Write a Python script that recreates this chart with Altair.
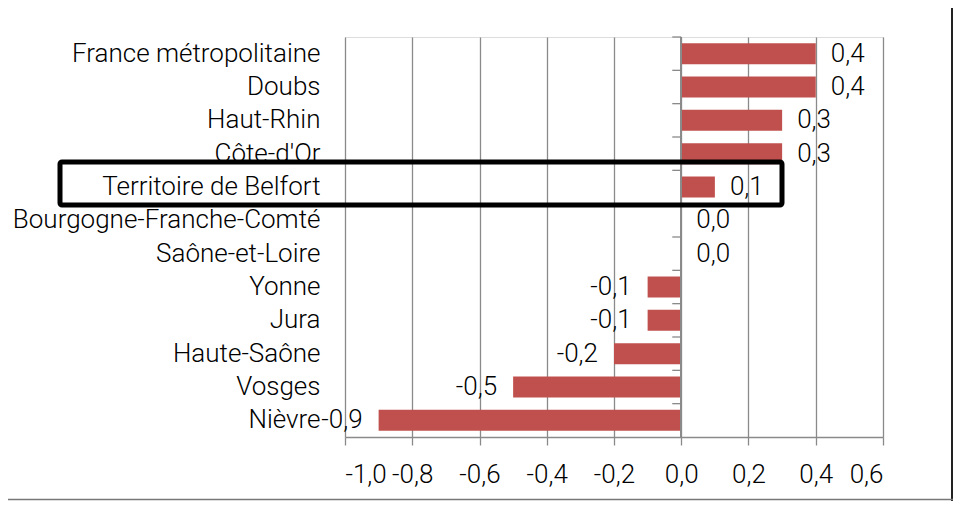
import altair as alt
import pandas as pd

categories = ["France métropolitaine", "Doubs", "Haut-Rhin", "Côte-d'Or",
              "Territoire de Belfort", "Bourgogne-Franche-Comté", "Saône-et-Loire",
              "Yonne", "Jura", "Haute-Saône", "Vosges", "Nièvre"]
values = [0.4, 0.4, 0.3, 0.3, 0.1, 0.0, 0.0, -0.1, -0.1, -0.2, -0.5, -0.9]
x_ticks = [-1.0, -0.8, -0.6, -0.4, -0.2, 0.0, 0.2, 0.4, 0.6]

df = pd.DataFrame({"cat": categories, "val": values})
df["label"] = [f"{v:.1f}".replace(".", ",") for v in values]

FONT = "Roboto"
FW = 300
FS = 26
GRID = "#8a8a8a"
BAR = "#c0504d"

yscale = alt.Scale(domain=categories, paddingInner=0, paddingOuter=0)
yaxis = alt.Axis(title=None, ticks=False, domain=False, labelPadding=25,
                 labelFontSize=FS, labelLimit=0, labelFont=FONT,
                 labelFontWeight=FW, labelColor="black")
xscale = alt.Scale(domain=[-1.0, 0.6], nice=False, zero=False)
xaxis = alt.Axis(title=None, values=x_ticks, grid=True, gridColor=GRID,
                 gridWidth=1.3, domainColor=GRID, domainWidth=1.3,
                 tickColor=GRID, tickWidth=1.3, tickSize=8, labelPadding=16,
                 labelFontSize=FS, labelFont=FONT, labelFontWeight=FW,
                 labelColor="black",
                 labelExpr="replace(replace(format(datum.value, '.1f'), '.', ','), '\u2212', '-')")

base = alt.Chart(df)

bars = base.mark_bar(color=BAR, height=alt.RelativeBandSize(0.63)).encode(
    x=alt.X("val:Q", scale=xscale, axis=xaxis),
    x2=alt.datum(0),
    y=alt.Y("cat:N", scale=yscale, axis=yaxis),
)

yline = base.mark_rule(color=GRID, strokeWidth=1.3).encode(
    x=alt.X("zero:Q", scale=xscale, axis=xaxis),
).transform_calculate(zero="0")

yticks = base.mark_rule(color=GRID, strokeWidth=1.3, x2Offset=-9).encode(
    x=alt.X("zero:Q", scale=xscale, axis=xaxis),
    x2="zero:Q",
    y=alt.Y("cat:N", scale=yscale, axis=yaxis, bandPosition=0),
).transform_calculate(zero="0")

pos_labels = base.transform_filter("datum.val >= 0").mark_text(
    align="left", baseline="middle", dx=15, fontSize=FS, font=FONT,
    fontWeight=FW, color="black").encode(
    x=alt.X("val:Q", scale=xscale, axis=xaxis),
    y=alt.Y("cat:N", scale=yscale, axis=yaxis),
    text="label:N",
)

neg_labels = base.transform_filter("datum.val < 0").mark_text(
    align="right", baseline="middle", dx=-16, fontSize=FS, font=FONT,
    fontWeight=FW, color="black").encode(
    x=alt.X("val:Q", scale=xscale, axis=xaxis),
    y=alt.Y("cat:N", scale=yscale, axis=yaxis),
    text="label:N",
)

# highlight box around "Territoire de Belfort" (annotation)
box = alt.Chart(pd.DataFrame({"k": [0]})).mark_rect(
    filled=False, stroke="black", strokeWidth=5, cornerRadius=2, clip=False
).encode(x=alt.value(-285), x2=alt.value(437), y=alt.value(125), y2=alt.value(168))

frame_r = alt.Chart(pd.DataFrame({"k": [0]})).mark_rule(
    color="#222222", strokeWidth=2, clip=False
).encode(x=alt.value(607), y=alt.value(-29), y2=alt.value(464))

frame_b = alt.Chart(pd.DataFrame({"k": [0]})).mark_rule(
    color="#777777", strokeWidth=1.5, clip=False
).encode(x=alt.value(-337), x2=alt.value(608), y=alt.value(462.5))

chart = alt.layer(bars, yline, yticks, pos_labels, neg_labels, box, frame_r, frame_b).properties(
    width=538, height=400,
    padding={"left": 337, "top": 29, "right": 74, "bottom": 64},
    autosize=alt.AutoSizeParams(type="none"),
).configure_view(stroke=None).configure(background="white")

chart.save("out.html", embed_options={"renderer": "svg", "actions": False})
